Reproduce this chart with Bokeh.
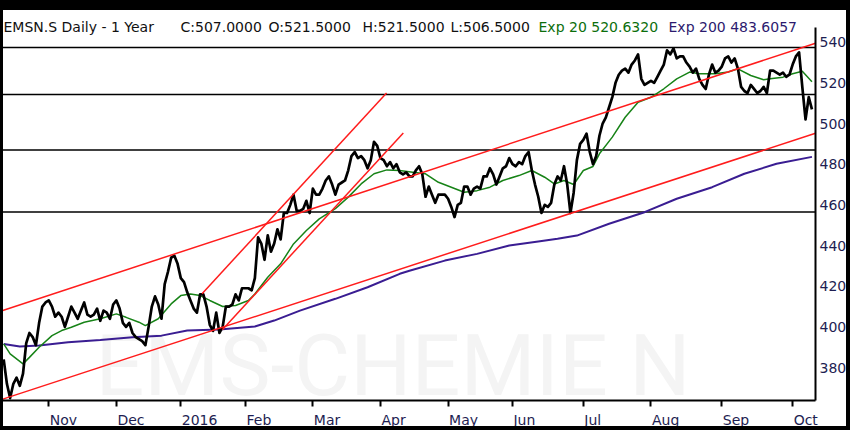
from bokeh.plotting import figure
from bokeh.models import Range1d, LinearAxis, FixedTicker, Span, Label, InlineStyleSheet
from bokeh.embed import file_html
from bokeh.resources import INLINE

# ---------------- data ----------------
# daily closes, one per trading day (index 0 = mid Oct 2015, 251 = 11 Oct 2016)
closes = [
    384, 372, 365, 372, 375, 371, 377, 392, 397, 395, 391, 402, 410, 412,
    413, 410, 405, 407, 405, 400, 405, 410, 407, 404, 408, 412, 406, 405, 406, 409, 403, 408, 407, 404, 411,
    413, 409, 402, 400, 402, 397, 395, 394, 393, 391, 400, 410, 415, 411, 404, 421, 427, 434, 435, 431,
    424, 422, 417, 413, 409, 407, 416, 416, 410, 401, 398, 407, 397, 400, 410, 410, 411, 416, 413, 419,
    419, 419, 418, 424, 444, 441, 433, 445, 437, 441, 448, 443, 456, 456, 460, 465, 457, 457, 458, 462, 456,
    468, 465, 465, 468, 472, 474, 470, 465, 470, 471, 472, 477, 484, 486, 483, 484, 482, 478, 482, 491, 489,
    483, 482, 479, 481, 478, 480, 476, 475, 476, 474, 474, 477, 479, 475, 464, 469, 465, 461, 465, 465, 465,
    463, 459, 454, 460, 461, 469, 469, 465, 468, 469, 468, 474, 474, 478, 475, 470, 474, 478, 479, 483,
    480, 479, 481, 480, 484, 486, 477, 470, 464, 456, 460, 459, 461, 470, 474, 472, 479, 470, 456, 466, 482, 490,
    492, 495, 486, 480, 484, 494, 500, 503, 508, 513, 520, 524, 526, 527, 525, 529, 531, 534, 522, 519, 520,
    521, 520, 523, 526, 529, 536, 534, 537, 532, 533, 533, 530, 528, 525, 527, 522, 519, 517, 524, 529, 525, 526,
    528, 532, 533, 530, 532, 527, 518, 516, 515, 519, 517, 515, 516, 518, 515, 526, 526, 525, 524, 525, 523, 524,
    529, 533, 535, 518, 502, 513, 507,
]

ema20_idx = [0, 2, 6, 8, 11, 15, 18, 21, 25, 30, 35, 38, 42, 44, 48, 52, 55, 58, 61, 64, 68, 72, 76, 78,
             82, 86, 90, 94, 98, 103, 107, 111, 115, 119, 123, 127, 131, 135, 139, 143, 147, 151, 155,
             160, 164, 168, 171, 174, 177, 180, 183, 185, 189, 193, 197, 201, 205, 209, 213, 216, 221,
             225, 228, 232, 236, 238, 242, 245, 248, 251]
ema20_val = [391.6, 386.7, 381.8, 385.0, 390.0, 395.7, 398.2, 399.8, 402.3, 404.0, 406.4, 404.7, 402.3,
             400.6, 404.0, 411.3, 415.4, 416.2, 415.4, 413.0, 410.0, 410.5, 413.0, 416.2, 424.4, 431.0,
             440.8, 447.4, 453.1, 458.1, 463.8, 470.3, 475.3, 477.2, 476.9, 476.1, 475.3, 471.1, 468.7,
             466.2, 467.0, 468.7, 472.0, 474.4, 476.9, 473.6, 470.3, 472.0, 470.0, 476.9, 478.9, 485.1,
             493.3, 503.1, 510.5, 512.9, 517.1, 522.0, 525.3, 524.5, 524.5, 525.3, 526.9, 523.6, 521.5,
             522.0, 522.8, 524.5, 525.7, 520.6]

ema200_idx = [0, 5, 11, 20, 30, 40, 49, 57, 67, 78, 84, 92, 103, 113, 123, 126, 137, 147, 157, 166,
              172, 178, 188, 199, 209, 220, 230, 240, 251]
ema200_val = [391.6, 390.3, 390.8, 392.4, 393.6, 394.9, 395.7, 398.2, 398.7, 400.2, 403.1, 408.0, 413.8,
              419.5, 426.1, 427.6, 432.6, 435.9, 440.0, 442.0, 443.3, 444.9, 450.7, 456.4, 463.0, 468.7,
              475.3, 480.2, 483.6]

# drawn trend lines (lower channel, upper channel, two steep lines)
trend_x0 = [-1, -1, 61.6, 67.9]
trend_y0 = [364.1, 407.7, 416.3, 398.6]
trend_x1 = [252.1, 252.1, 118.9, 124.1]
trend_y1 = [495.2, 539.5, 515.0, 495.4]

# horizontal support / resistance levels
levels = [537.4, 514.3, 487.0, 456.5]

month_idx = [14, 35, 55, 75, 96, 117, 138, 158, 180, 201, 223, 245]
month_labels = ["Nov", "Dec", "2016", "Feb", "Mar", "Apr", "May", "Jun", "Jul", "Aug", "Sep", "Oct"]
y_ticks = [380, 400, 420, 440, 460, 480, 500, 520, 540]

title_parts = ["EMSN.S Daily -  1 Year", "C:507.0000", "O:521.5000", "H:521.5000", "L:506.5000",
               "Exp 20 520.6320", "Exp 200 483.6057"]
title_colors = ["#111111", "#111111", "#111111", "#111111", "#111111", "#0c6e0c", "#2c1a6e"]
title_x = [3, 180, 268, 362, 450, 538, 668]

NAVY = "#1e1e52"
GREEN = "#178317"
PURPLE = "#3a1d92"
RED = "#ff1c1c"
FONT = "DejaVu Sans"
LABEL_PX = 14

# approximate DejaVu Sans advance widths (em) to left-align month labels on their ticks
CHAR_W = {"N": .748, "o": .612, "v": .592, "D": .770, "e": .615, "c": .550, "0": .636, "1": .636,
          "2": .636, "6": .636, "F": .575, "b": .635, "M": .863, "a": .613, "r": .411, "A": .684,
          "p": .635, "y": .592, "J": .295, "u": .634, "n": .634, "l": .278, "g": .635, "S": .635,
          "O": .787, "t": .392}

X_START, X_END = -0.99, 252.1
FRAME_W = 815
px_per_idx = FRAME_W / (X_END - X_START)

p = figure(width=850, height=430, output_backend="svg", toolbar_location=None,
           x_range=Range1d(X_START, X_END), y_range=Range1d(363.8, 560.5),
           x_axis_type=None, y_axis_type=None,
           min_border_left=0, min_border_right=35, min_border_top=0, min_border_bottom=30,
           outline_line_color=None, background_fill_color="white", border_fill_color="white")

# image frame (black border like the reference screenshot)
p.stylesheets = [InlineStyleSheet(css=(
    ":host { position: relative; }"
    ":host::after { content: ''; position: absolute; left: 0; top: 0; right: 0; bottom: 0;"
    " box-sizing: border-box; border-style: solid; border-color: #000;"
    " border-width: 10px 4px 4px 3px; pointer-events: none; z-index: 100; }"))]

# watermark
p.add_layout(Label(x=690, y=35, x_units="screen", y_units="screen", text="EMS-CHEMIE N",
                   text_font="Roboto", text_font_size="86px", text_color="#f4f4f4",
                   text_align="right", text_baseline="alphabetic", level="underlay"))

for lv in levels:
    p.add_layout(Span(location=lv, dimension="width", line_color="black", line_width=1.5,
                      level="underlay"))

p.line(ema200_idx, ema200_val, line_color=PURPLE, line_width=2)
p.line(ema20_idx, ema20_val, line_color=GREEN, line_width=1.5)
p.line(list(range(len(closes))), closes, line_color="black", line_width=2.7, line_join="round")
p.segment(x0=trend_x0, y0=trend_y0, x1=trend_x1, y1=trend_y1, line_color=RED, line_width=1.5)

# bottom axis: line + outward ticks at month starts
xaxis = LinearAxis(ticker=FixedTicker(ticks=month_idx, minor_ticks=[]),
                   axis_line_color="black", axis_line_width=2,
                   major_tick_line_color="black", major_tick_line_width=2,
                   major_tick_out=6, major_tick_in=0, minor_tick_out=0, minor_tick_in=0,
                   major_label_text_font_size="0px", major_label_text_color=None,
                   major_label_standoff=0)
p.add_layout(xaxis, "below")

# month names: second axis whose (centred) labels start at each tick
label_pos = []
for xi, lab in zip(month_idx, month_labels):
    w = sum(CHAR_W.get(ch, 0.6) for ch in lab) * LABEL_PX
    label_pos.append(round(xi + (w / 2 + 1) / px_per_idx, 3))
laxis = LinearAxis(ticker=FixedTicker(ticks=label_pos, minor_ticks=[]),
                   major_label_overrides={lp: lab for lp, lab in zip(label_pos, month_labels)},
                   axis_line_color=None, major_tick_line_color=None,
                   major_tick_out=0, major_tick_in=0, minor_tick_out=0, minor_tick_in=0,
                   major_label_standoff=5, major_label_text_font=FONT,
                   major_label_text_font_size=f"{LABEL_PX}px", major_label_text_color=NAVY)
p.add_layout(laxis, "below")

yaxis = LinearAxis(ticker=FixedTicker(ticks=y_ticks, minor_ticks=[]), bounds=(363.8, 547.2),
                   axis_line_color="black", axis_line_width=2,
                   major_tick_out=0, major_tick_in=0, minor_tick_out=0, minor_tick_in=0,
                   major_label_standoff=4, major_label_text_font=FONT,
                   major_label_text_font_size="14px", major_label_text_color=NAVY)
p.add_layout(yaxis, "right")

for txt, col, tx in zip(title_parts, title_colors, title_x):
    p.add_layout(Label(x=tx, y=374, x_units="screen", y_units="screen", text=txt,
                       text_font=FONT, text_font_size="14px", text_color=col,
                       text_align="left", text_baseline="alphabetic"))

open("out.html", "w").write(file_html(p, INLINE))
